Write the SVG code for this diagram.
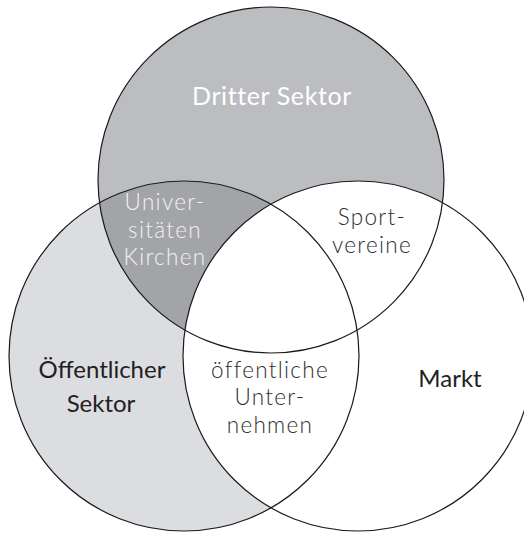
<svg xmlns="http://www.w3.org/2000/svg" width="524" height="534" viewBox="0 0 524 534">
<style>
.ring{fill:none;stroke:#1a1a1a;stroke-width:1.2}
.lt{font-family:Lato,"Open Sans","Liberation Sans",sans-serif;font-size:22.5px;font-weight:300;text-anchor:middle;letter-spacing:1.3px}
.dk{font-family:Lato,"Open Sans","Liberation Sans",sans-serif;font-size:24px;text-anchor:middle;fill:#231f20}
</style>
<defs>
<clipPath id="clipLeft"><circle cx="184" cy="356" r="175"/></clipPath>
</defs>
<rect width="524" height="534" fill="#ffffff"/>
<g id="oeffentlicher-sektor-fill"><circle cx="184" cy="356" r="175" fill="#dcdde0"/></g>
<g id="dritter-sektor-fill"><circle cx="271" cy="180" r="173" fill="#bcbdc0"/>
<circle cx="271" cy="180" r="173" fill="#a2a4a7" clip-path="url(#clipLeft)"/></g>
<g id="markt-fill"><circle cx="358" cy="356" r="175" fill="#ffffff"/></g>
<g id="outlines">
<circle class="ring" cx="271" cy="180" r="173"/>
<circle class="ring" cx="184" cy="356" r="175"/>
<circle class="ring" cx="358" cy="356" r="175"/>
</g>
<g id="dritter-sektor"><text class="lt" x="272" y="105" fill="#ffffff" style="font-size:25px;font-weight:400;letter-spacing:0.6px">Dritter Sektor</text></g>
<g id="universitaeten"><text class="lt" fill="#f2f2f2"><tspan x="165" y="210">Univer-</tspan><tspan x="165" y="238">sitäten</tspan><tspan x="165" y="265">Kirchen</tspan></text></g>
<g id="sportvereine"><text class="lt" fill="#2e2e2e"><tspan x="372" y="225">Sport-</tspan><tspan x="372" y="253">vereine</tspan></text></g>
<g id="oeffentliche-unternehmen"><text class="lt" fill="#2e2e2e"><tspan x="270" y="378">öffentliche</tspan><tspan x="270" y="405">Unter-</tspan><tspan x="270" y="433">nehmen</tspan></text></g>
<g id="oeffentlicher-sektor"><text class="dk"><tspan x="102" y="378">Öffentlicher</tspan><tspan x="101" y="412">Sektor</tspan></text></g>
<g id="markt"><text class="dk" x="450" y="387">Markt</text></g>
</svg>
